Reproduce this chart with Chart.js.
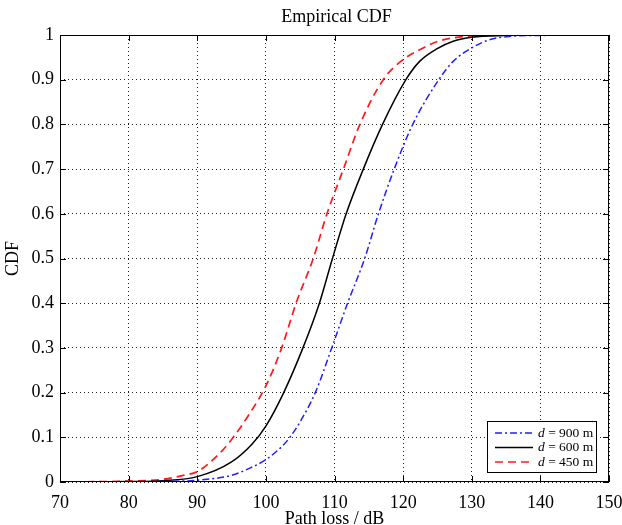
<!DOCTYPE html>
<html>
<head>
<meta charset="utf-8">
<script src="https://cdn.jsdelivr.net/npm/chart.js@4.4.1/dist/chart.umd.min.js"></script>
<style>
  html, body { margin: 0; padding: 0; background: #fff; }
  #wrap { width: 622px; height: 525px; }
</style>
</head>
<body>
<div id="wrap"><canvas id="cdfChart"></canvas></div>
<script>
// path loss (dB) and empirical CDF
var loss900 = [82, 85, 90, 95, 97.5, 100, 102.5, 103.5, 105, 107.2, 109.6, 111.9, 114.4, 116.4, 118.7, 121.4, 125.2, 127.3, 130, 132.7, 135.6, 140, 146];
var cdf900  = [0, 0.001, 0.004, 0.015, 0.03, 0.05, 0.082, 0.1, 0.135, 0.2, 0.3, 0.4, 0.5, 0.6, 0.7, 0.8, 0.9, 0.941, 0.971, 0.99, 0.997, 0.999, 1];

var loss600 = [72, 80, 85, 90, 95, 98, 100, 102.6, 105.4, 107.8, 109.7, 111.7, 114.2, 117, 120.4, 122.4, 124.9, 127.3, 130, 135, 140];
var cdf600  = [0, 0.001, 0.003, 0.012, 0.045, 0.085, 0.125, 0.2, 0.3, 0.4, 0.5, 0.6, 0.7, 0.8, 0.9, 0.941, 0.969, 0.986, 0.995, 0.999, 1];

var loss450 = [70, 80, 85, 88, 90, 93, 95, 97.5, 100, 102.3, 104.4, 106.9, 108.9, 111.3, 113.7, 117.1, 120, 122.4, 124.9, 130, 135];
var cdf450  = [0, 0.002, 0.006, 0.015, 0.023, 0.06, 0.095, 0.15, 0.215, 0.3, 0.4, 0.5, 0.6, 0.7, 0.8, 0.9, 0.945, 0.967, 0.985, 0.998, 1];

var seriesNames = ['900 m', '600 m', '450 m'];
var xTicks = [70, 80, 90, 100, 110, 120, 130, 140, 150];
var yTicks = [0, 0.1, 0.2, 0.3, 0.4, 0.5, 0.6, 0.7, 0.8, 0.9, 1];
var chartTitle = 'Empirical CDF';

var serif = '"Liberation Serif", "Times New Roman", serif';

function toPoints(xs, ys) {
    var pts = [];
    for (var i = 0; i < xs.length; i++) {
        pts.push({ x: xs[i], y: ys[i] });
    }
    return pts;
}

// title over the plot box, box round the axes, inward ticks (matlab style) and the legend
var framePlugin = {
    id: 'frame',
    afterDraw: function (chart) {
        var ctx = chart.ctx;
        var a = chart.chartArea;
        var xs = chart.scales.x, ys = chart.scales.y;
        ctx.save();

        ctx.fillStyle = '#000';
        ctx.font = '18px ' + serif;
        ctx.textAlign = 'center';
        ctx.textBaseline = 'middle';
        ctx.fillText(chartTitle, (a.left + a.right) / 2 + 2, 17);

        ctx.strokeStyle = '#000';
        ctx.lineWidth = 1;
        ctx.setLineDash([]);
        ctx.strokeRect(Math.round(a.left) + 0.5, Math.round(a.top) + 0.5,
                       Math.round(a.width) - 1, Math.round(a.height) - 1);
        ctx.beginPath();
        xTicks.forEach(function (v) {
            var px = Math.round(xs.getPixelForValue(v)) + 0.5;
            ctx.moveTo(px, a.bottom); ctx.lineTo(px, a.bottom - 6);
            ctx.moveTo(px, a.top); ctx.lineTo(px, a.top + 6);
        });
        yTicks.forEach(function (v) {
            var py = Math.round(ys.getPixelForValue(v)) + 0.5;
            ctx.moveTo(a.left, py); ctx.lineTo(a.left + 6, py);
            ctx.moveTo(a.right, py); ctx.lineTo(a.right - 6, py);
        });
        ctx.stroke();

        // legend box
        var bx = 487.5, by = 421.5, bw = 109, bh = 51;
        ctx.fillStyle = '#fff';
        ctx.fillRect(bx, by, bw, bh);
        ctx.strokeRect(bx, by, bw, bh);
        var rows = [433, 447.5, 462];
        chart.data.datasets.forEach(function (ds, i) {
            ctx.beginPath();
            ctx.strokeStyle = ds.borderColor;
            ctx.lineWidth = ds.borderWidth;
            ctx.setLineDash(ds.borderDash || []);
            ctx.moveTo(495, rows[i]);
            ctx.lineTo(533, rows[i]);
            ctx.stroke();
            ctx.setLineDash([]);
            ctx.fillStyle = '#000';
            ctx.textBaseline = 'middle';
            ctx.textAlign = 'left';
            ctx.font = 'italic 13.5px ' + serif;
            ctx.fillText('d', 538, rows[i]);
            var w = ctx.measureText('d').width;
            ctx.font = '13.5px ' + serif;
            ctx.fillText(' = ' + seriesNames[i], 538 + w, rows[i]);
        });
        ctx.restore();
    }
};

var ctx = document.getElementById('cdfChart').getContext('2d');
var cdfChart = new Chart(ctx, {
    type: 'line',
    data: {
        datasets: [{
            data: toPoints(loss900, cdf900),
            borderColor: '#1f1fff',
            borderWidth: 1.5,
            borderDash: [7, 3, 2, 3]
        }, {
            data: toPoints(loss600, cdf600),
            borderColor: '#000000',
            borderWidth: 1.5,
            borderDash: []
        }, {
            data: toPoints(loss450, cdf450),
            borderColor: '#ff1a1a',
            borderWidth: 1.7,
            borderDash: [8, 5]
        }]
    },
    options: {
        responsive: true,
        maintainAspectRatio: false,
        animation: false,
        layout: { padding: { left: 0, right: 13, top: 35, bottom: 0 } },
        elements: {
            point: { radius: 0 },
            line: { cubicInterpolationMode: 'monotone', fill: false }
        },
        plugins: {
            legend: { display: false },
            tooltip: { enabled: false },
            title: { display: false }
        },
        scales: {
            x: {
                type: 'linear',
                min: 70,
                max: 150,
                afterFit: function (s) { s.height = 43; s.paddingLeft = 0; s.paddingRight = 0; },
                afterBuildTicks: function (s) { s.ticks = xTicks.map(function (v) { return { value: v }; }); },
                ticks: { color: '#000', padding: 10, font: { family: serif, size: 18 } },
                grid: { color: '#222', drawTicks: false, lineWidth: 1 },
                border: { display: false, dash: [1, 3] },
                title: {
                    display: true,
                    text: 'Path loss / dB',
                    color: '#000',
                    font: { family: serif, size: 18 },
                    padding: { top: 0, bottom: -5 }
                }
            },
            y: {
                min: 0,
                max: 1,
                afterFit: function (s) { s.width = 60; s.paddingTop = 0; s.paddingBottom = 0; },
                afterBuildTicks: function (s) { s.ticks = yTicks.map(function (v) { return { value: v }; }); },
                ticks: {
                    color: '#000',
                    padding: 6,
                    font: { family: serif, size: 18 },
                    callback: function (v) { return String(+v.toFixed(1)); }
                },
                grid: { color: '#222', drawTicks: false, lineWidth: 1 },
                border: { display: false, dash: [1, 3] },
                title: {
                    display: true,
                    text: 'CDF',
                    color: '#000',
                    font: { family: serif, size: 18 },
                    padding: { top: 2, bottom: 0 }
                }
            }
        }
    },
    plugins: [framePlugin]
});
</script>
</body>
</html>
